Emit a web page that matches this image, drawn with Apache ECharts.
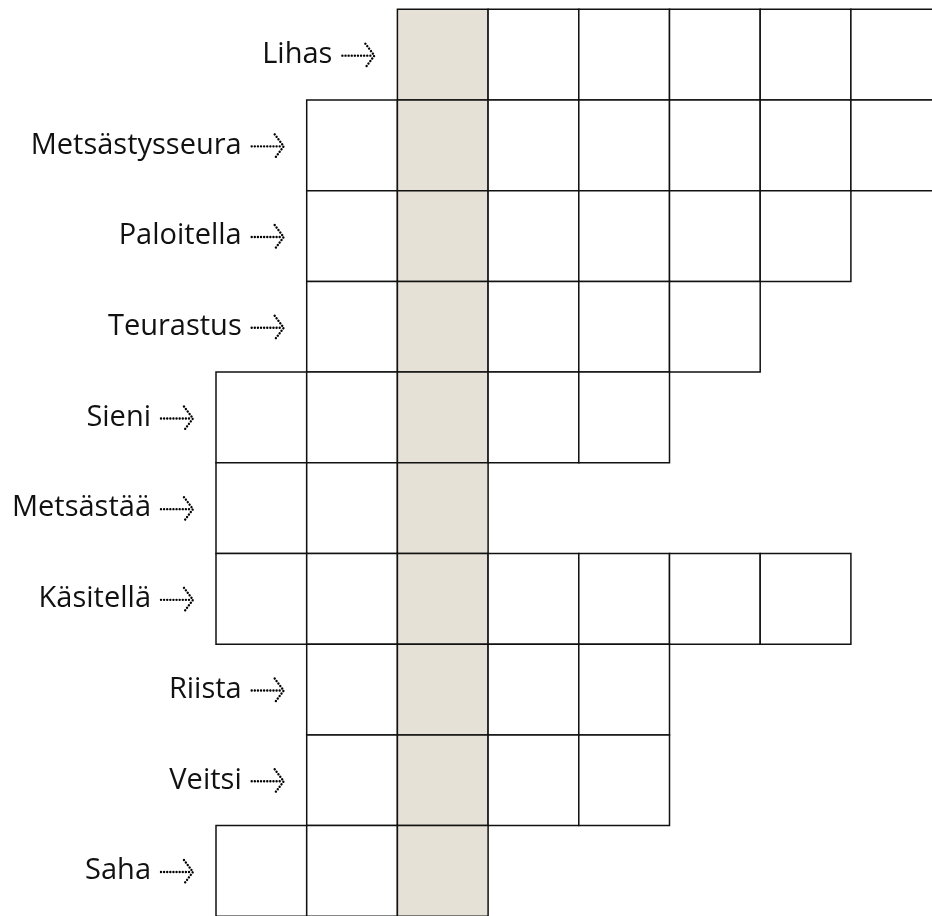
<!DOCTYPE html>
<html>
<head>
<meta charset="utf-8">
<script src="https://cdn.jsdelivr.net/npm/echarts@6/dist/echarts.min.js"></script>
<style>html,body{margin:0;padding:0;background:#fff;overflow:hidden}#c{width:960px;height:930px}</style>
</head>
<body>
<div id="c"></div>
<script>
const rowLabels = ['Lihas','Metsästysseura','Paloitella','Teurastus','Sieni','Metsästää','Käsitellä','Riista','Veitsi','Saha'];
const rowStart = [2,1,1,1,0,0,0,1,1,0];
const rowLength = [6,7,6,5,5,3,7,4,4,3];
const highlightCol = 2;
const numCols = 8;

const cellData = [];
rowLabels.forEach((lab, r) => {
  for (let c = rowStart[r]; c < rowStart[r] + rowLength[r]; c++) {
    cellData.push([c, r, c === highlightCol ? 1 : 0]);
  }
});
const labelData = rowLabels.map((lab, r) => [rowStart[r], r, lab]);

const chart = echarts.init(document.getElementById('c'), null, {renderer: 'canvas'});
chart.setOption({
  animation: false,
  grid: {left: 216, top: 9.3, width: 725.6, height: 907},
  xAxis: {type: 'value', min: 0, max: numCols, show: false},
  yAxis: {type: 'value', min: 0, max: rowLabels.length, inverse: true, show: false},
  series: [
    {
      type: 'custom',
      clip: false,
      data: cellData,
      renderItem: function (params, api) {
        const c = api.value(0), r = api.value(1), h = api.value(2);
        const p0 = api.coord([c, r]);
        const p1 = api.coord([c + 1, r + 1]);
        return {
          type: 'rect',
          shape: {x: p0[0], y: p0[1], width: p1[0] - p0[0], height: p1[1] - p0[1]},
          style: {fill: h ? '#e5e1d6' : '#ffffff', stroke: '#111111', lineWidth: 1.5}
        };
      }
    },
    {
      type: 'custom',
      clip: false,
      data: labelData,
      renderItem: function (params, api) {
        const c = api.value(0), r = api.value(1);
        const lab = rowLabels[r];
        const p0 = api.coord([c, r]);
        const p1 = api.coord([c, r + 1]);
        const x = p0[0];
        const cy = (p0[1] + p1[1]) / 2 + 1;
        const dot = {stroke: '#000', lineWidth: 2.4, lineDash: [0.01, 3.1], lineCap: 'round', fill: null};
        return {
          type: 'group',
          children: [
            {type: 'text', style: {x: x - 65, y: cy - 1, text: lab, align: 'right', verticalAlign: 'middle',
              font: '29px "Open Sans"', fill: '#111'}},
            {type: 'line', shape: {x1: x - 55, y1: cy, x2: x - 27, y2: cy}, style: dot},
            {type: 'polyline', shape: {points: [[x - 32, cy - 12], [x - 23, cy], [x - 32, cy + 12]]}, style: dot}
          ]
        };
      }
    }
  ]
});
</script>
</body>
</html>
